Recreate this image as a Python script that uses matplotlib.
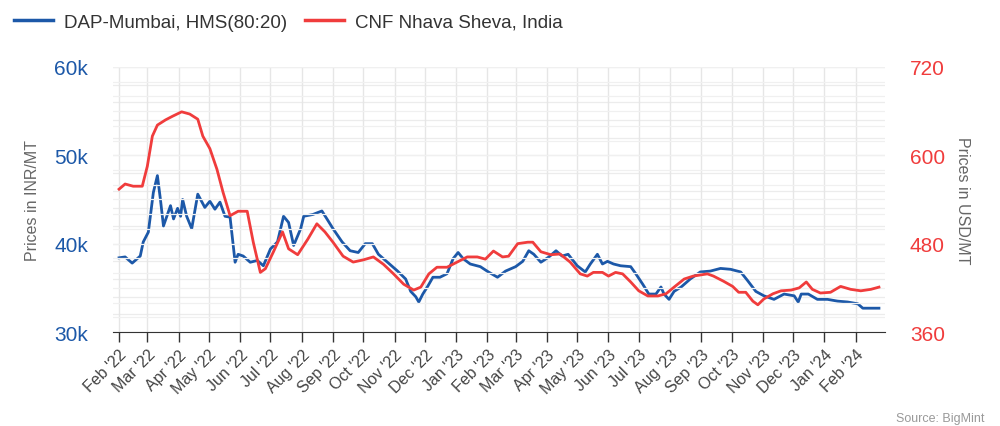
import matplotlib
matplotlib.use('Agg')
import matplotlib.pyplot as plt
import matplotlib.dates as mdates
import numpy as np
import pandas as pd

plt.rcParams['font.family'] = ['Liberation Sans', 'DejaVu Sans']

start = pd.Timestamp('2022-02-01')

# DAP-Mumbai, HMS(80:20) -- days since 1 Feb 2022, price in INR/MT (thousands)
dap_day = [0, 6, 13, 21, 24, 29, 34, 38, 41, 44, 51, 54, 58, 61, 63, 67, 72, 78, 85, 90,
           95, 100, 105, 110, 115, 118, 123, 130, 137, 143, 150, 157, 163, 168, 173, 180,
           183, 192, 201, 206, 212, 221, 229, 237, 244, 251, 257, 266, 276, 284, 289, 294,
           297, 301, 306, 311, 318, 325, 331, 336, 341, 348, 358, 366, 375, 383, 393, 400,
           406, 411, 418, 426, 433, 439, 445, 454, 462, 467, 474, 479, 484, 490, 497, 507,
           512, 519, 525, 532, 537, 540, 545, 550, 557, 566, 576, 586, 596, 606, 616, 623,
           631, 639, 649, 659, 669, 673, 676, 683, 692, 702, 712, 722, 732, 737, 748, 753]
dap_price = [38.4, 38.5, 37.8, 38.6, 40.2, 41.3, 45.8, 47.7, 45.0, 42.0, 44.3, 42.8, 44.0, 43.1,
             45.0, 43.1, 41.7, 45.6, 44.1, 44.8, 43.9, 44.7, 43.1, 43.0, 37.9, 38.8, 38.6, 37.9,
             38.1, 37.5, 39.4, 40.2, 43.1, 42.4, 39.8, 41.7, 43.1, 43.3, 43.7, 42.8, 41.7, 40.2,
             39.2, 39.0, 40.0, 40.0, 38.8, 37.9, 36.9, 36.0, 34.6, 34.0, 33.4, 34.3, 35.2, 36.2,
             36.2, 36.6, 38.3, 39.0, 38.3, 37.7, 37.4, 36.8, 36.2, 36.9, 37.4, 38.0, 39.2, 38.8,
             37.9, 38.5, 39.2, 38.6, 38.8, 37.5, 36.8, 37.7, 38.8, 37.7, 38.0, 37.7, 37.5, 37.4,
             36.6, 35.4, 34.3, 34.3, 35.1, 34.3, 33.7, 34.6, 35.1, 36.0, 36.8, 36.9, 37.2, 37.1,
             36.8, 35.8, 34.6, 34.1, 33.7, 34.3, 34.1, 33.4, 34.3, 34.3, 33.7, 33.7, 33.5, 33.4,
             33.2, 32.7, 32.7, 32.7]

# CNF Nhava Sheva, India -- days since 1 Feb 2022, price in USD/MT
cnf_day = [0, 6, 14, 23, 28, 33, 38, 46, 53, 62, 70, 78, 83, 90, 97, 103, 110, 118, 127, 133,
           140, 145, 153, 162, 168, 177, 187, 196, 204, 212, 222, 232, 242, 252, 262, 272,
           282, 292, 299, 307, 315, 325, 335, 345, 355, 363, 371, 380, 386, 395, 405, 410,
           418, 428, 437, 447, 457, 464, 470, 479, 485, 492, 499, 507, 515, 524, 534, 542,
           550, 560, 569, 583, 589, 599, 608, 614, 621, 628, 633, 639, 648, 656, 666, 674,
           681, 687, 695, 705, 715, 725, 735, 745, 753]
cnf_price = [554, 561, 558, 558, 585, 626, 641, 648, 653, 659, 656, 649, 626, 609, 581, 550,
             518, 524, 524, 482, 441, 446, 469, 496, 473, 465, 486, 507, 496, 482, 463, 455,
             458, 462, 452, 439, 425, 417, 421, 439, 448, 448, 455, 462, 462, 459, 470, 462,
             463, 480, 482, 482, 469, 465, 466, 455, 439, 436, 441, 441, 436, 441, 439, 428,
             416, 409, 409, 412, 421, 432, 436, 439, 436, 429, 422, 414, 414, 402, 397, 405,
             412, 416, 417, 420, 428, 418, 413, 414, 422, 418, 416, 418, 421]

dap_dates = start + pd.to_timedelta(dap_day, unit='D')
cnf_dates = start + pd.to_timedelta(cnf_day, unit='D')

blue = '#1c58a8'
red = '#f03c3c'
grey = '#666666'

fig = plt.figure(figsize=(10, 4.27), dpi=100)
ax = fig.add_axes([0.113, 0.22, 0.772, 0.621])
ax2 = ax.twinx()

# grid
for v in np.arange(30, 61, 2):
    ax.axhline(v, color='#ececec', lw=0.9, zorder=0)
for v in np.arange(360, 721, 20):
    ax2.axhline(v, color='#f0f0f0', lw=0.9, zorder=0)
months = pd.date_range('2022-02-01', '2024-02-01', freq='MS')
for m in months:
    ax.axvline(m, color='#e6e6e6', lw=1.0, zorder=0)

ax.plot(dap_dates, dap_price, color=blue, lw=2.0, zorder=3)
ax2.plot(cnf_dates, cnf_price, color=red, lw=2.0, zorder=3)

ax.set_ylim(30, 60)
ax2.set_ylim(360, 720)
ax.set_yticks([30, 40, 50, 60])
ax.set_yticklabels(['30k', '40k', '50k', '60k'])
ax2.set_yticks([360, 480, 600, 720])
ax.set_xlim(pd.Timestamp('2022-01-26'), pd.Timestamp('2024-03-01'))

ax.tick_params(axis='y', colors=blue, labelsize=15, length=0, pad=18)
ax2.tick_params(axis='y', colors=red, labelsize=15, length=0, pad=18)
ax.set_xticks(months)
ax.xaxis.set_major_formatter(mdates.DateFormatter("%b '%y"))
ax.tick_params(axis='x', colors='#333333', labelcolor='#444444', labelsize=11.5,
               length=7, width=1, direction='out')
for lab in ax.get_xticklabels():
    lab.set_rotation(45)
    lab.set_ha('right')
    lab.set_rotation_mode('anchor')

for a in (ax, ax2):
    for s in ('top', 'left', 'right', 'bottom'):
        a.spines[s].set_visible(False)
ax.spines['bottom'].set_visible(True)
ax.spines['bottom'].set_color('#333333')

ax.set_ylabel('Prices in INR/MT', color=grey, fontsize=11.5, labelpad=10)
ax2.set_ylabel('Prices in USD/MT', color=grey, fontsize=11.5, rotation=270, labelpad=18)

# legend
fig.legend(handles=[plt.Line2D([], [], color=blue, lw=2.5),
                    plt.Line2D([], [], color=red, lw=2.5)],
           labels=['DAP-Mumbai, HMS(80:20)', 'CNF Nhava Sheva, India'],
           loc='upper left', bbox_to_anchor=(-0.003, 1.005), ncol=2, frameon=False,
           fontsize=13.5, handlelength=2.1, handletextpad=0.6, columnspacing=0.9,
           labelcolor='#333333')

fig.text(0.985, 0.005, 'Source: BigMint', color='#999999', fontsize=9, ha='right', va='bottom')

fig.savefig('out.png', dpi=100)
